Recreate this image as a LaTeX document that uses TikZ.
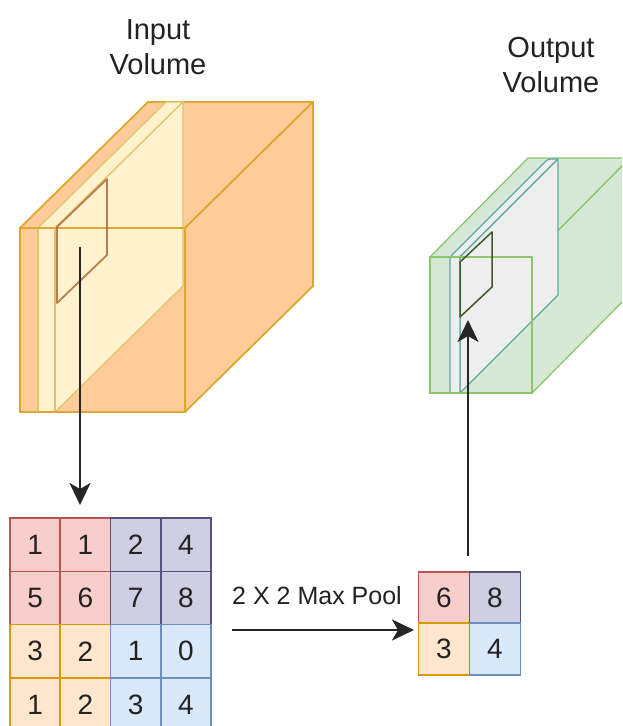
\documentclass[tikz,border=0pt]{standalone}
\usepackage{fontspec}
\setmainfont{Liberation Sans}
\usetikzlibrary{arrows.meta}
\definecolor{orFill}{RGB}{255,204,153}
\definecolor{orLine}{RGB}{222,168,48}
\definecolor{ylFill}{RGB}{255,242,204}
\definecolor{ylLine}{RGB}{222,196,110}
\definecolor{brWin}{RGB}{176,104,64}
\definecolor{gnFill}{RGB}{213,232,212}
\definecolor{gnLine}{RGB}{140,196,112}
\definecolor{gyFill}{RGB}{238,238,238}
\definecolor{tlLine}{RGB}{96,168,160}
\definecolor{dgWin}{RGB}{64,88,40}
\definecolor{rdFill}{RGB}{248,206,204}
\definecolor{rdLine}{RGB}{184,84,80}
\definecolor{puFill}{RGB}{208,206,226}
\definecolor{puLine}{RGB}{86,81,126}
\definecolor{peFill}{RGB}{255,230,204}
\definecolor{peLine}{RGB}{215,155,0}
\definecolor{blFill}{RGB}{218,232,252}
\definecolor{blLine}{RGB}{108,142,191}
\definecolor{txt}{RGB}{34,34,34}
\tikzset{
  orface/.style={fill=orFill, draw=orLine, line width=1.8pt, line join=round},
  ylface/.style={fill=ylFill, draw=ylLine, line width=1.2pt, line join=round},
  gnface/.style={fill=gnFill, draw=gnLine, line width=1.3pt, line join=round},
  gyface/.style={fill=gyFill, draw=tlLine, line width=1.2pt, line join=round},
  cell/.style={draw, line width=1.6pt, minimum width=50.25pt, minimum height=53.3pt,
    inner sep=0pt, text=txt, font=\fontsize{28}{32}\selectfont},
  pcell/.style={cell, minimum width=51pt, minimum height=51.5pt},
  qR/.style={fill=rdFill, draw=rdLine},
  qP/.style={fill=puFill, draw=puLine},
  qO/.style={fill=peFill, draw=peLine},
  qB/.style={fill=blFill, draw=blLine},
  lbl/.style={text=txt, align=center, font=\fontsize{29}{35}\selectfont},
  conn/.style={draw=black!85, line width=2.4pt,
    -{Stealth[length=22pt,width=21pt,inset=6pt]}}
}
\begin{document}
\begin{tikzpicture}[x=1pt,y=-1pt]
\useasboundingbox (0,0) rectangle (622,726);
\clip (0,0) rectangle (622,726);

% ---------- input volume: orange block ----------
\path[orface] (20,228) -- (148,102) -- (313,102) -- (185,228) -- cycle;
\path[orface] (185,228) -- (313,102) -- (313,286) -- (185,412) -- cycle;
\path[orface] (20,228) rectangle (185,412);
% thin light slice inside the block
\path[ylface] (38,228) -- (166,102) -- (183,102) -- (55,228) -- cycle;
\path[ylface] (55,228) -- (183,102) -- (183,286) -- (55,412) -- cycle;
\path[ylface] (38,228) rectangle (55,412);
% front outline of the block on top
\draw[orLine, line width=1.8pt] (20,228) rectangle (185,412);
% filter window
\draw[brWin, line width=1.8pt, line join=round, opacity=0.85]
  (57,227) -- (107,179) -- (107,255) -- (57,303) -- cycle;

% ---------- output volume: green block ----------
\path[gnface] (430,257) -- (528,158) -- (630,158) -- (532,257) -- cycle;
\path[gnface] (532,257) -- (630,158) -- (630,294) -- (532,393) -- cycle;
\path[gnface] (430,257) rectangle (532,393);
% grey slice inside the block
\path[gyface, rounded corners=2pt] (450,257) -- (548,159) -- (558,159) -- (460,257) -- cycle;
\path[gyface] (460,257) -- (558,159) -- (558,295) -- (460,393) -- cycle;
\path[gyface, rounded corners=2pt] (450,257) rectangle (460,393);
\draw[gnLine, line width=1.3pt] (430,257) rectangle (532,393);
% output window
\draw[dgWin, line width=1.5pt, line join=round]
  (460,262) -- (492,232) -- (492,287) -- (460,317) -- cycle;

% ---------- titles ----------
\node[lbl] (inLbl) at (158,47.5) {Input\\Volume};
\node[lbl] (outLbl) at (551,65.5) {Output\\Volume};

% ---------- 4x4 input patch ----------
\node[cell,qR] (c11) at (35.1,544.7) {1};
\node[cell,qR] (c12) at (85.4,544.7) {1};
\node[cell,qR] (c21) at (35.1,598.0) {5};
\node[cell,qR] (c22) at (85.4,598.0) {6};
\node[cell,qP] (c13) at (135.6,544.7) {2};
\node[cell,qP] (c14) at (185.9,544.7) {4};
\node[cell,qP] (c23) at (135.6,598.0) {7};
\node[cell,qP] (c24) at (185.9,598.0) {8};
\node[cell,qO] (c31) at (35.1,651.3) {3};
\node[cell,qO] (c32) at (85.4,651.3) {2};
\node[cell,qO] (c41) at (35.1,704.6) {1};
\node[cell,qO] (c42) at (85.4,704.6) {2};
\node[cell,qB] (c33) at (135.6,651.3) {1};
\node[cell,qB] (c34) at (185.9,651.3) {0};
\node[cell,qB] (c43) at (135.6,704.6) {3};
\node[cell,qB] (c44) at (185.9,704.6) {4};

% ---------- 2x2 pooled result ----------
\node[pcell,qR] (p11) at (444,597.5) {6};
\node[pcell,qP] (p12) at (495,597.5) {8};
\node[pcell,qO] (p21) at (444,649) {3};
\node[pcell,qB] (p22) at (495,649) {4};

% ---------- connectors ----------
\coordinate (winIn) at (80,247);
\coordinate (patchTop) at (80,505);
\draw[conn] (winIn) -- (patchTop);

\node[text=txt, font=\fontsize{25}{30}\selectfont] (mpLbl) at (317,596) {2 X 2 Max Pool};
\coordinate (mpS) at (232,630);
\coordinate (mpE) at (414,630);
\draw[conn] (mpS) -- (mpE);

\coordinate (poolTop) at (468,556);
\coordinate (outWin) at (468,320);
\draw[conn] (poolTop) -- (outWin);
\end{tikzpicture}
\end{document}
